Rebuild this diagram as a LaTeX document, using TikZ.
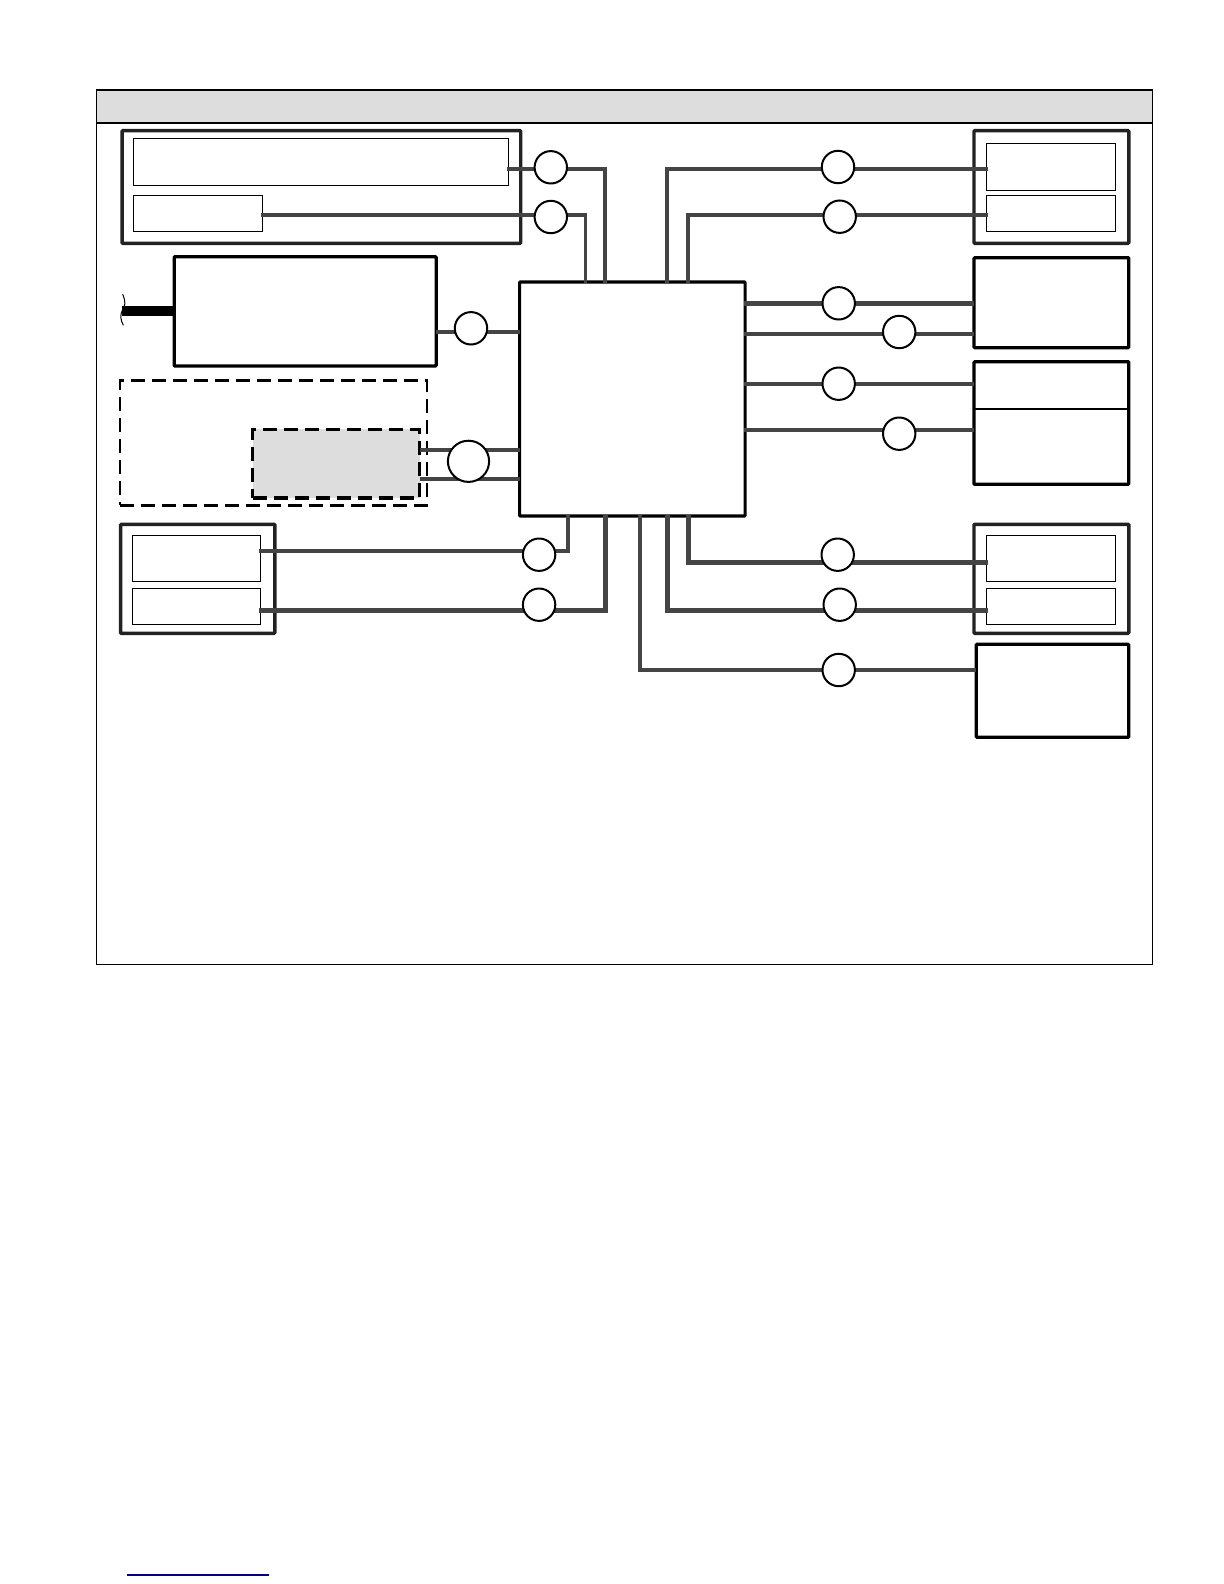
\documentclass[tikz,border=0pt]{standalone}
\usetikzlibrary{calc}
\definecolor{hdr}{HTML}{DDDDDD}
\definecolor{wirec}{HTML}{444444}
\definecolor{outerc}{HTML}{222222}
\tikzset{
  every node/.style={inner sep=0pt,outer sep=0pt},
  framebox/.style={draw=black,line width=0.6pt},
  headband/.style={fill=hdr,draw=black,line width=0.6pt},
  outerbox/.style={draw=outerc,line width=1.7pt,fill=white,rounded corners=0.4pt},
  innerbox/.style={draw=black,line width=0.5pt,fill=white},
  solidbox/.style={draw=black,line width=1.6pt,fill=white,rounded corners=0.4pt},
  dashbox/.style={draw=black,line width=1.4pt,dash pattern=on 7pt off 3.5pt},
  dashgray/.style={draw=black,line width=1.6pt,fill=hdr,dash pattern=on 7pt off 3.5pt},
  wire/.style={draw=wirec,line width=1.8pt,line join=miter},
  thickwire/.style={draw=wirec,line width=2.5pt,line join=miter},
  junction/.style={circle,draw=black,line width=1pt,fill=white,minimum size=16.2pt},
  bigjunction/.style={circle,draw=black,line width=1pt,fill=white,minimum size=20.6pt},
}
\newcommand{\pbox}[6]{%
  \pgfmathsetmacro{\pw}{(#5-#3)*0.5}\pgfmathsetmacro{\ph}{(#6-#4)*0.5}%
  \node[#2,minimum width=\pw pt,minimum height=\ph pt,anchor=north west] (#1) at (#3,#4) {};%
}
\begin{document}
\begin{tikzpicture}[x=0.5pt,y=-0.5pt]
\useasboundingbox (0,0) rectangle (1224,1584);

% frame and header
\pbox{frame}{framebox}{96.4}{90}{1152.7}{964.3}
\pbox{head}{headband}{96.4}{90}{1152.7}{122.7}
\draw[black,line width=1.1pt] (head.south west) -- (head.south east);

% left blocks
\pbox{A}{outerbox}{122.1}{130.7}{520.7}{243.3}
\pbox{Aone}{innerbox}{133.3}{138.7}{508.9}{185.3}
\pbox{Atwo}{innerbox}{133.3}{195.3}{262.8}{231.3}
\pbox{B}{solidbox}{174.2}{256.7}{436.2}{366}
\pbox{Dout}{dashbox}{119.9}{380.3}{426.9}{505.3}
\pbox{Din}{dashgray}{252.5}{429.3}{419.5}{498}
\pbox{C}{outerbox}{120.6}{524.3}{274.8}{633.3}
\pbox{Cone}{innerbox}{132.5}{535.3}{260.6}{581.3}
\pbox{Ctwo}{innerbox}{132.5}{588.3}{260.6}{624.3}

% centre block
\pbox{M}{solidbox}{519.6}{282}{745.1}{516}

% right blocks
\pbox{R}{outerbox}{974}{130.7}{1128.8}{243.3}
\pbox{Rone}{innerbox}{986.5}{143.3}{1115.6}{190.3}
\pbox{Rtwo}{innerbox}{986.5}{195.3}{1115.6}{231.3}
\pbox{S}{solidbox}{974}{257.7}{1128.8}{347.7}
\pbox{T}{solidbox}{974}{361.7}{1128.8}{484.3}
\pbox{F}{outerbox}{974}{524.3}{1128.8}{633.3}
\pbox{Fone}{innerbox}{986.5}{535.3}{1115.6}{581.3}
\pbox{Ftwo}{innerbox}{986.5}{588.3}{1115.6}{624.3}
\pbox{G}{solidbox}{976.3}{644.3}{1128.8}{737.3}
\draw[black,line width=0.8pt] (T.west |- 0,408.7) coordinate (Tl) -- (T.east |- 0,408.7) coordinate (Tr);

% free ends of the connectors
\coordinate (mt1) at (585.6,283); \coordinate (mt2) at (605.2,283);
\coordinate (mt3) at (667,283); \coordinate (mt4) at (688,283);
\coordinate (mb1) at (567.9,515); \coordinate (mb2) at (605.1,515);
\coordinate (mb3) at (640,515); \coordinate (mb4) at (667,515);
\coordinate (mb5) at (688,515);
\coordinate (rs) at (743.5,0);

% connectors
\draw[wire] (Aone.east |- 0,169) ++(-1.5,0) -- (605.2,169) -- (mt2);
\draw[wire] (Atwo.east |- 0,215) ++(-1.5,0) -- (585.6,215) -- (mt1);
\draw[wire] (B.east |- 0,331.7) -- (M.west |- 0,331.7);
\draw[wire] (Din.east |- 0,449.7) -- (M.west |- 0,449.7);
\draw[wire] (Din.east |- 0,478.7) -- (M.west |- 0,478.7);
\draw[wire] (Cone.east |- 0,550.7) ++(-1.5,0) -- (567.9,550.7) -- (mb1);
\draw[thickwire] (Ctwo.east |- 0,610.3) ++(-1.5,0) -- (605.1,610.3) -- (mb2);
\draw[wire] (mt3) -- (667,169) -- (987.5,169);
\draw[wire] (mt4) -- (688,215) -- (987.5,215);
\draw[thickwire] (rs |- 0,303.3) -- (S.west |- 0,303.3);
\draw[wire] (rs |- 0,334) -- (S.west |- 0,334);
\draw[wire] (rs |- 0,383.7) -- (T.west |- 0,383.7);
\draw[wire] (rs |- 0,429.7) -- (T.west |- 0,429.7);
\draw[thickwire] (mb5) -- (688,562.3) -- (987.5,562.3);
\draw[thickwire] (mb4) -- (667,610.3) -- (987.5,610.3);
\draw[wire] (mb3) -- (640,670) -- (G.west |- 0,670);

% heavy stub on the second block, with its break mark
\draw[black,line width=5pt] (B.west |- 0,310.7) -- (122.1,310.7) coordinate (stub);
\draw[black,line width=0.5pt] (122.7,294.3) .. controls (125.9,302) and (125.4,306) .. (122.4,310)
  .. controls (119.9,315) and (120.4,320) .. (123.4,325.3);

% junction circles
\node[junction] (c1) at (550.8,167.3) {};
\node[junction] (c2) at (550.8,217) {};
\node[junction] (c3) at (471,328.3) {};
\node[bigjunction] (c4) at (468.5,461.3) {};
\node[junction] (c5) at (539.1,554.7) {};
\node[junction] (c6) at (539.1,604.7) {};
\node[junction] (c7) at (838,167) {};
\node[junction] (c8) at (839.7,216.7) {};
\node[junction] (c9) at (838.7,303.3) {};
\node[junction] (c10) at (899.2,332) {};
\node[junction] (c11) at (838.7,383.7) {};
\node[junction] (c12) at (899.2,433.7) {};
\node[junction] (c13) at (837.7,554.7) {};
\node[junction] (c14) at (839.7,604.7) {};
\node[junction] (c15) at (838.7,670) {};

% rule at the foot of the page
\coordinate (fa) at (127,1575); \coordinate (fb) at (269,1575);
\draw[blue!50!black,line width=0.7pt] (fa) -- (fb);
\end{tikzpicture}
\end{document}
